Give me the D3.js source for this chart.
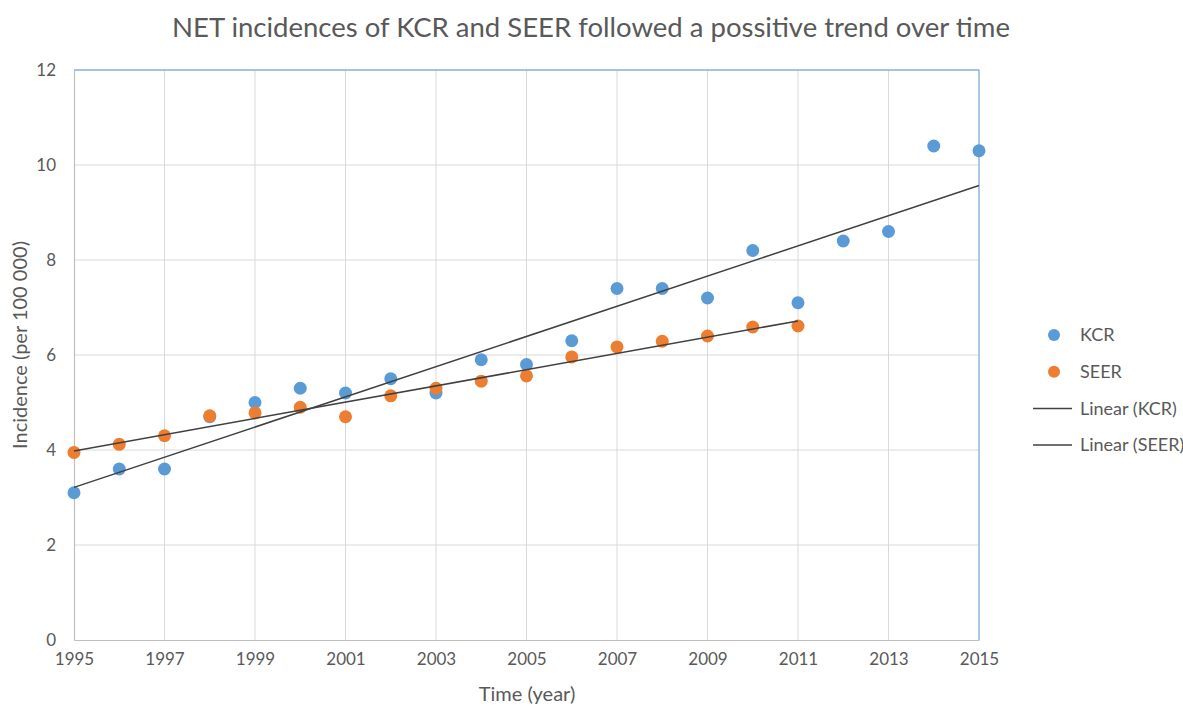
<!DOCTYPE html>
<html>
<head>
<meta charset="utf-8">
<script src="https://cdn.jsdelivr.net/npm/d3@7"></script>
<style>
  body { margin: 0; background: #fff; }
  text { font-family: Lato, "Open Sans", sans-serif; fill: #595959; }
</style>
</head>
<body>
<div id="chart"></div>
<script>
let years = d3.range(1995, 2016),
    kcr = [3.1, 3.6, 3.6, 4.7, 5.0, 5.3, 5.2, 5.5, 5.2, 5.9, 5.8, 6.3, 7.4, 7.4, 7.2, 8.2, 7.1, 8.4, 8.6, 10.4, 10.3],
    seerYears = d3.range(1995, 2012),
    seer = [3.95, 4.12, 4.3, 4.72, 4.78, 4.9, 4.7, 5.14, 5.3, 5.45, 5.56, 5.96, 6.17, 6.29, 6.4, 6.59, 6.61],
    xTicks = d3.range(1995, 2016, 2),
    yTicks = d3.range(0, 13, 2),
    legendItems = ["KCR", "SEER", "Linear (KCR)", "Linear (SEER)"]

let width = 1183, height = 708,
    plotL = 74, plotR = 979, plotT = 70, plotB = 640,
    blue = "#5b9bd5", orange = "#ed7d31", trendColor = "#404040"

let svg = d3.select("#chart").append("svg")
    .attr("width", width)
    .attr("height", height)

let x = d3.scaleLinear().domain([1995, 2015]).range([plotL, plotR]),
    y = d3.scaleLinear().domain([0, 12]).range([plotB, plotT])

// gridlines
svg.append("g").selectAll("line").data(yTicks.slice(1))
    .join("line")
    .attr("x1", plotL).attr("x2", plotR)
    .attr("y1", d => y(d)).attr("y2", d => y(d))
    .attr("stroke", "#d9d9d9")
svg.append("g").selectAll("line").data(xTicks.slice(1))
    .join("line")
    .attr("x1", d => x(d)).attr("x2", d => x(d))
    .attr("y1", plotT).attr("y2", plotB)
    .attr("stroke", "#d9d9d9")

// plot area border (blue on top/right)
svg.append("path")
    .attr("d", `M${plotL},${plotT}H${plotR}V${plotB}`)
    .attr("fill", "none")
    .attr("stroke", "#8db3e2")
    .attr("stroke-width", 1.3)

// axes
let xAxis = svg.append("g")
    .attr("transform", `translate(0,${plotB})`)
    .call(d3.axisBottom(x).tickValues(xTicks).tickFormat(d3.format("d")).tickSize(0).tickPadding(13))
let yAxis = svg.append("g")
    .attr("transform", `translate(${plotL},0)`)
    .call(d3.axisLeft(y).tickValues(yTicks).tickSize(0).tickPadding(18))
for (let ax of [xAxis, yAxis]) {
    ax.select(".domain").attr("stroke", "#bfbfbf").attr("stroke-width", 1.2)
    ax.selectAll("text").style("font-size", "17px").style("font-family", "Lato, sans-serif").attr("fill", "#595959")
}

// linear fit
let fit = (xs, ys) => {
    let mx = d3.mean(xs), my = d3.mean(ys)
    let num = d3.sum(xs, (v, i) => (v - mx) * (ys[i] - my)),
        den = d3.sum(xs, v => (v - mx) * (v - mx))
    let b = num / den, a = my - b * mx
    return [[xs[0], a + b * xs[0]], [xs[xs.length - 1], a + b * xs[xs.length - 1]]]
}
let line = d3.line().x(d => x(d[0])).y(d => y(d[1]))

// points
svg.append("g").selectAll("circle").data(years.map((yr, i) => [yr, kcr[i]]))
    .join("circle")
    .attr("cx", d => x(d[0])).attr("cy", d => y(d[1]))
    .attr("r", 6.5).attr("fill", blue)
svg.append("g").selectAll("circle").data(seerYears.map((yr, i) => [yr, seer[i]]))
    .join("circle")
    .attr("cx", d => x(d[0])).attr("cy", d => y(d[1]))
    .attr("r", 6.5).attr("fill", orange)

svg.append("path").attr("d", line(fit(years, kcr)))
    .attr("stroke", trendColor).attr("stroke-width", 1.5).attr("fill", "none")
svg.append("path").attr("d", line(fit(seerYears, seer)))
    .attr("stroke", trendColor).attr("stroke-width", 1.5).attr("fill", "none")

// title
svg.append("text")
    .attr("x", 591).attr("y", 37)
    .attr("text-anchor", "middle")
    .style("font-size", "27.5px")
    .text("NET incidences of KCR and SEER followed a possitive trend over time")

// axis titles
svg.append("text")
    .attr("x", 527).attr("y", 701)
    .attr("text-anchor", "middle")
    .style("font-size", "20px")
    .text("Time (year)")
svg.append("text")
    .attr("transform", "translate(27,345) rotate(-90)")
    .attr("text-anchor", "middle")
    .style("font-size", "20px")
    .text("Incidence (per 100 000)")

// legend
let legend = svg.append("g").selectAll("g").data(legendItems)
    .join("g")
    .attr("transform", (d, i) => `translate(1054,${335 + i * 36.7})`)
legend.filter((d, i) => i < 2).append("circle")
    .attr("r", 6).attr("fill", (d, i) => i ? orange : blue)
legend.filter((d, i) => i >= 2).append("line")
    .attr("x1", -21).attr("x2", 18)
    .attr("stroke", trendColor).attr("stroke-width", 1.5)
legend.append("text")
    .attr("x", 26).attr("dy", "0.35em")
    .style("font-size", "18px")
    .text(d => d)
</script>
</body>
</html>
